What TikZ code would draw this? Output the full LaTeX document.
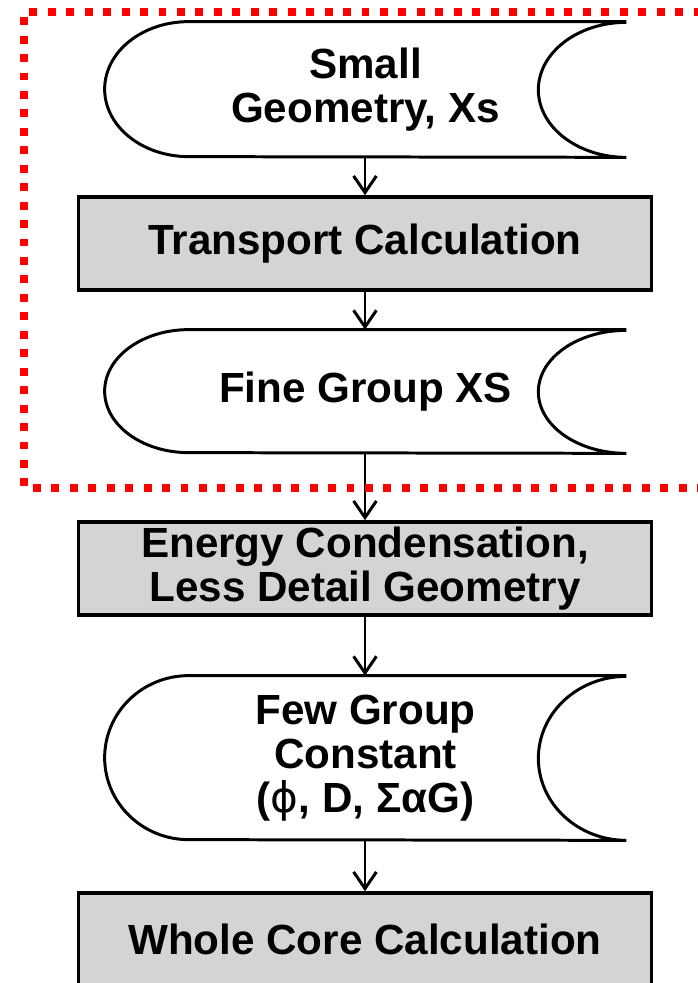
\documentclass[tikz,border=0pt]{standalone}
\usepackage{fontspec}
\setmainfont{Liberation Sans}
\newfontfamily\phifont{DejaVu Sans}
\usetikzlibrary{arrows.meta}
\definecolor{FlowGray}{HTML}{D4D4D4}
\definecolor{FlowRed}{HTML}{FF0000}
\newcommand{\storeoutline}[2]{%
  \draw[storeline] (#1.north east) -- ([xshift=1.68cm]#1.north west)
    arc[start angle=90,end angle=270,x radius=1.68cm,y radius=#2]
    -- (#1.south east)
    arc[start angle=270,end angle=90,x radius=1.76cm,y radius=#2];
}

\begin{document}
\begin{tikzpicture}[x=1cm,y=1cm,
  box/.style={draw,line width=2pt,fill=FlowGray,minimum width=11.46cm,minimum height=1.86cm,inner sep=0pt,align=center,font=\bfseries\fontsize{24}{25}\selectfont},
  store/.style={minimum width=10.42cm,inner sep=0pt,align=center,font=\bfseries\fontsize{24}{25}\selectfont},
  storeline/.style={line width=1.7pt},
  flow/.style={line width=1.7pt,-{Straight Barb[length=9.5pt,width=13pt]}}]
\path[use as bounding box] (0,0) rectangle (13.94,19.66);
\fill[white] (0,0) rectangle (13.94,19.66);
\node[store,minimum height=2.70cm] (small) at (7.31,17.87) {Small\\Geometry, Xs};
\storeoutline{small}{1.35cm}
\node[box] (trans) at (7.30,14.79) {Transport Calculation};
\node[store,minimum height=2.46cm] (fine) at (7.31,11.83) {Fine Group XS};
\storeoutline{fine}{1.23cm}
\node[box] (energy) at (7.30,8.29) {Energy Condensation,\\Less Detail Geometry};
\node[store,minimum height=3.28cm] (few) at (7.31,4.50) {Few Group\\Constant\\({\phifont\mdseries ϕ}, D, ΣαG)};
\storeoutline{few}{1.64cm}
\node[box] (whole) at (7.30,0.87) {Whole Core Calculation};
\draw[flow] (small.south -| trans.north) -- (trans.north);
\draw[flow] (trans.south) -- (trans.south |- fine.north);
\draw[flow] (fine.south -| energy.north) -- (energy.north);
\draw[flow] (energy.south) -- (energy.south |- few.north);
\draw[flow] (few.south -| whole.north) -- (whole.north);
\draw[FlowRed,line width=4pt,dash pattern=on 4.5pt off 6pt] (14.40,19.42) -- (0.48,19.42) -- (0.48,9.90) -- (14.40,9.90);
\end{tikzpicture}
\end{document}
